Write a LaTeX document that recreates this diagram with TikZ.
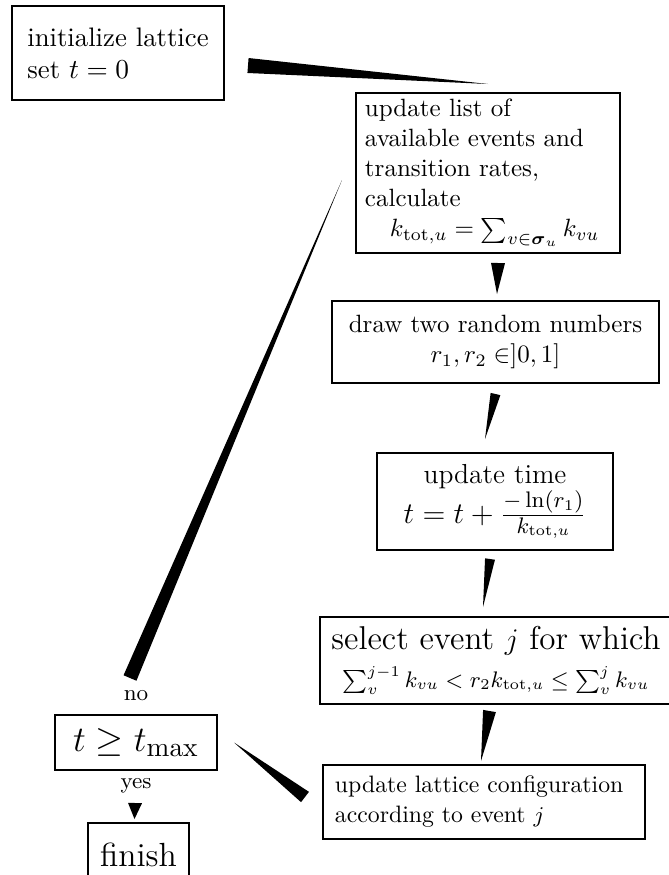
\documentclass[tikz,border=0pt]{standalone}
\usepackage{amsmath,amssymb}
\usetikzlibrary{calc}
\tikzset{
  flowbox/.style={draw, line width=0.8pt, inner sep=0pt},
  branchlabel/.style={font=\small, inner sep=0pt}
}
\begin{document}
\begin{tikzpicture}[x=0.4pt,y=-0.4pt]
	% page
	\useasboundingbox (0,0) rectangle (668,875);
	% boxes
	\node[flowbox, minimum width=84.8pt, minimum height=37.6pt, align=left,
		font=\fontsize{10.7}{12.8}\selectfont] (init) at (118,53)
		{initialize lattice\\ set $t=0$};
	\node[flowbox, minimum width=105.6pt, minimum height=64pt, text width=98.4pt, align=left] (list) at (488,173)
		{update list of\\ available events and\\ transition rates,\\ calculate\\
		\hspace*{10pt}$k_{\mathrm{tot},u}=\sum_{v\in\boldsymbol{\sigma}_u}k_{vu}$};
	\node[flowbox, minimum width=130.8pt, minimum height=32.8pt, align=center] (rand) at (495.5,342)
		{draw two random numbers\\ $r_1,r_2\in]0,1]$};
	\node[flowbox, minimum width=94.4pt, minimum height=38.8pt, align=center,
		font=\fontsize{11}{14}\selectfont] (time) at (495,501.5)
		{update time\\ {\fontsize{13}{15}\selectfont $t=t+\frac{-\ln(r_1)}{k_{\mathrm{tot},u}}$}};
	\node[flowbox, minimum width=140.8pt, minimum height=34.8pt, align=center] (select) at (496,660.5)
		{{\fontsize{13.2}{15}\selectfont select event $j$ for which}\\[3pt]
		{\fontsize{9.2}{11}\selectfont $\sum_v^{j-1}k_{vu}<r_2k_{\mathrm{tot},u}\le\sum_v^{j}k_{vu}$}};
	\node[flowbox, minimum width=128.8pt, minimum height=29.6pt, text width=119.2pt, align=left,
		font=\fontsize{9.5}{12}\selectfont] (lattice) at (484,802)
		{update lattice configuration\\ according to event $j$};
	\node[flowbox, minimum width=64.8pt, minimum height=22pt, font=\fontsize{15.5}{18}\selectfont] (tmax) at (136,742.5)
		{$t\ge t_{\max}$};
	\node[flowbox, minimum width=40pt, minimum height=25.6pt, font=\fontsize{13.4}{16}\selectfont] (finish) at (138.5,855)
		{finish};
	% labels
	\node[branchlabel] (no) at ($(tmax.north)+(0,-18)$) {no};
	\node[branchlabel] (yes) at ($(tmax.south)+(0,15)$) {yes};
	% wedge ends
	\coordinate (initS) at ($(init.east)+(23,12.5)$);
	\coordinate (initE) at ($(list.north)+(0,-8)$);
	\coordinate (listS) at ($(list.south)+(10,9)$);
	\coordinate (listE) at ($(rand.north)+(1.5,-6)$);
	\coordinate (randS) at ($(rand.south)+(0,10)$);
	\coordinate (randE) at ($(time.north)+(-10,-13)$);
	\coordinate (timeS) at ($(time.south)+(-5,8)$);
	\coordinate (timeE) at ($(select.north)+(-13,-9)$);
	\coordinate (selectS) at ($(select.south)+(-6.5,6)$);
	\coordinate (selectE) at ($(lattice.north)+(-3,-3)$);
	\coordinate (latticeS) at ($(lattice.west)+(-17,-5)$);
	\coordinate (latticeE) at ($(tmax.east)+(16,0)$);
	\coordinate (noS) at ($(tmax.north)+(-6,-36)$);
	\coordinate (noE) at ($(list.west)+(-13,7)$);
	\coordinate (yesS) at ($(tmax.south)+(-1,32)$);
	\coordinate (yesE) at ($(finish.north)+(-4,-3)$);
	% wedges
	\foreach \s/\e/\w in {initS/initE/3pt, listS/listE/2.8pt, randS/randE/2pt,
		timeS/timeE/2pt, selectS/selectE/2.6pt, latticeS/latticeE/2.6pt,
		noS/noE/2.8pt, yesS/yesE/2.8pt}{
		\fill ($(\s)!\w!90:(\e)$) -- ($(\s)!\w!-90:(\e)$) -- (\e) -- cycle;
	}
\end{tikzpicture}
\end{document}
